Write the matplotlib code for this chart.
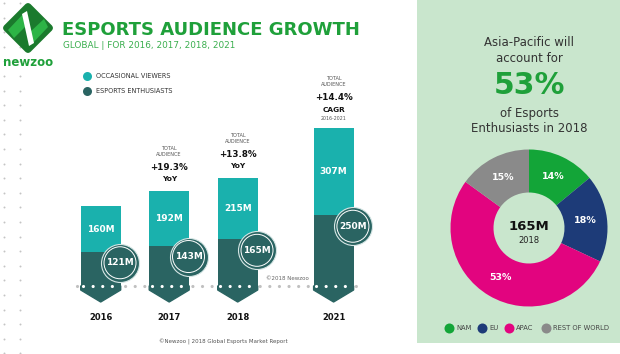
import numpy as np
import matplotlib.pyplot as plt
from matplotlib.patches import Rectangle, Polygon

# ---- data ----
years = ['2016', '2017', '2018', '2021']
enthusiasts = [121, 143, 165, 250]
occasional = [160, 192, 215, 307]
growth_pct = [None, '+19.3%', '+13.8%', '+14.4%']
growth_kind = [None, 'YoY', 'YoY', 'CAGR']

regions = ['NAM', 'EU', 'APAC', 'REST OF WORLD']
region_share = [14, 18, 53, 15]

# ---- style ----
TEAL = '#1ab1ad'
DARK = '#2a6462'
GREEN = '#1fa03a'
LIGHT_BG = '#c9e6cd'
REGION_COLORS = ['#13a538', '#1d3b78', '#e2047f', '#8a8a8a']
plt.rcParams['font.family'] = 'DejaVu Sans'

W, H = 620, 354
PX_PER_M = 0.283      # bar scale, pixels per million
BASE_Y = 286          # baseline pixel row
STEP = 68.5           # pixels between neighbouring years
pt = 0.72             # points per pixel at dpi 100

fig = plt.figure(figsize=(W / 100, H / 100), dpi=100)

# background / decoration layer in pixel coordinates
bg = fig.add_axes([0, 0, 1, 1])
bg.set_xlim(0, W)
bg.set_ylim(H, 0)
bg.axis('off')

# dot grid on the left margin
gy = np.arange(3, H, 14.6)
for gx in (4, 20):
    bg.scatter(np.full_like(gy, gx), gy, s=2, color='#c4c4c4', lw=0)

# logo
c = (28, 28)
d = 21.5
bg.add_patch(Polygon([(c[0], c[1] - d), (c[0] + d, c[1]), (c[0], c[1] + d), (c[0] - d, c[1])],
                     closed=True, fc='#1b7a2d', ec='#1b7a2d', lw=5, joinstyle='round'))
bg.add_patch(Polygon([(8, 30), (25, 12), (28, 24), (14, 38)], fc='#2db446', lw=0))
bg.add_patch(Polygon([(29, 33), (44, 19), (48, 27), (32, 44)], fc='#2db446', lw=0))
bg.add_patch(Polygon([(22, 14), (27, 11), (34, 43), (29, 46)], fc='white', lw=0))
bg.text(28, 63, 'newzoo', ha='center', va='center', fontsize=8.5, fontweight='bold', color=GREEN)

# title
bg.text(62, 30, 'ESPORTS AUDIENCE GROWTH', ha='left', va='center', fontsize=13,
        fontweight='bold', color=GREEN)
bg.text(63, 45, 'GLOBAL | FOR 2016, 2017, 2018, 2021', ha='left', va='center',
        fontsize=6.4, color='#3aae4e')

# legend for bars
for ly, col, lab in [(76, TEAL, 'OCCASIONAL VIEWERS'), (91, DARK, 'ESPORTS ENTHUSIASTS')]:
    bg.scatter([87], [ly], s=(9 * pt) ** 2, color=col, lw=0)
    bg.text(96, ly, lab, ha='left', va='center', fontsize=4.7, color='#333333')

bg.text(266, 278, '\u00a92018 Newzoo', ha='left', va='center', fontsize=4, color='#666666')
bg.text(223, 342, '\u00a9Newzoo | 2018 Global Esports Market Report', ha='center', va='center',
        fontsize=4, color='#555555')

# right panel
bg.add_patch(Rectangle((417, 0), W - 417, 343, fc=LIGHT_BG, lw=0))
px = 529
bg.text(px, 43, 'Asia-Pacific will', ha='center', va='center', fontsize=8.5, color='#333333')
bg.text(px, 58, 'account for', ha='center', va='center', fontsize=8.5, color='#333333')
bg.text(px, 85, f'{region_share[2]}%', ha='center', va='center', fontsize=21.5,
        fontweight='bold', color=GREEN)
bg.text(px, 113, 'of Esports', ha='center', va='center', fontsize=8.5, color='#333333')
bg.text(px, 128, 'Enthusiasts in 2018', ha='center', va='center', fontsize=8.5, color='#333333')

leg_x = [449, 482, 509, 546]
for lx, col, lab in zip(leg_x, REGION_COLORS, regions):
    bg.scatter([lx], [328], s=(10 * pt) ** 2, color=col, lw=0)
    bg.text(lx + 7, 328, lab, ha='left', va='center', fontsize=4.9, color='#444444')

# ---- bar chart ----
x = np.array([0, 1, 2, 3.4])
width = 40 / STEP
ax = fig.add_axes([0, 0, 418 / W, 1])
ax.set_xlim(-100.7 / STEP, (418 - 100.7) / STEP)
ax.set_ylim(-(H - BASE_Y) / PX_PER_M, BASE_Y / PX_PER_M)
ax.axis('off')
ax.patch.set_alpha(0)

ent = np.array(enthusiasts)
occ = np.array(occasional)
ax.bar(x, ent, width, color=DARK, zorder=2)
ax.bar(x, occ, width, bottom=ent, color=TEAL, zorder=2)

# chevrons under each bar
side = 4 / PX_PER_M
tip = 16 / PX_PER_M
for xi in x:
    l, r = xi - width / 2, xi + width / 2
    ax.add_patch(Polygon([(l, 0), (r, 0), (r, -side), (xi, -tip), (l, -side)], closed=True,
                         fc=DARK, ec=DARK, lw=1, joinstyle='round', zorder=2, clip_on=False))

# dotted baseline
ax.hlines(0, (77 - 100.7) / STEP, (362 - 100.7) / STEP, colors='#c0c0c0', lw=2.3,
          linestyles=(0, (0.01, 3.0)), capstyle='round', zorder=1)
for xi in x:
    ax.hlines(0, xi - width / 2 + 0.04, xi + width / 2, colors='white', lw=2.3,
              linestyles=(0, (0.01, 3.0)), capstyle='round', zorder=3)

# values
for xi, e, o in zip(x, ent, occ):
    ax.text(xi, e + o / 2, f'{o}M', ha='center', va='center', fontsize=6.5,
            fontweight='bold', color='white', zorder=4)
    cx, cy = xi + width / 2 - 0.01, e - 11 / PX_PER_M
    ax.scatter([cx], [cy], s=(38 * pt) ** 2, color=DARK, edgecolors='#d6e6e5', lw=0.8, zorder=5)
    ax.scatter([cx], [cy], s=(32 * pt) ** 2, facecolors='none', edgecolors='white', lw=0.7, zorder=6)
    ax.text(cx, cy, f'{e}M', ha='center', va='center', fontsize=6.5,
            fontweight='bold', color='white', zorder=7)

for xi, yr in zip(x, years):
    ax.annotate(yr, (xi, 0), xytext=(0, -32 * pt), textcoords='offset points', ha='center',
                va='center', fontsize=6, fontweight='bold', color='#111111')

# growth notes above bars
for xi, e, o, pct, kind in zip(x, ent, occ, growth_pct, growth_kind):
    if pct is None:
        continue
    top = e + o
    if kind == 'CAGR':
        lines = [('TOTAL', 50, 3.6, 'normal'), ('AUDIENCE', 44, 3.6, 'normal'),
                 (pct, 31, 6.3, 'bold'), (kind, 18, 5.3, 'bold'),
                 ('2016-2021', 10, 3.4, 'normal')]
    else:
        lines = [('TOTAL', 43, 3.6, 'normal'), ('AUDIENCE', 37, 3.6, 'normal'),
                 (pct, 24, 6.3, 'bold'), (kind, 12, 5.3, 'bold')]
    for txt, off, fs, fw in lines:
        col = '#111111' if fw == 'bold' else '#555555'
        ax.annotate(txt, (xi, top), xytext=(0, off * pt), textcoords='offset points',
                    ha='center', va='center', fontsize=fs, fontweight=fw, color=col)

# ---- donut ----
R = 78.5
cxp, cyp = 529, 228
axp = fig.add_axes([(cxp - R) / W, (H - cyp - R) / H, 2 * R / W, 2 * R / H])
axp.pie(region_share, colors=REGION_COLORS, startangle=90, counterclock=False, radius=1,
        wedgeprops=dict(width=1 - 35.5 / R, lw=0), autopct=lambda p: f'{p:.0f}%',
        pctdistance=0.726, textprops=dict(color='white', fontweight='bold', fontsize=6.8))
axp.set_xlim(-1, 1)
axp.set_ylim(-1, 1)
axp.text(0, 0.02, f'{enthusiasts[2]}M', ha='center', va='center', fontsize=9.5,
         fontweight='bold', color='#111111')
axp.text(0, -0.16, years[2], ha='center', va='center', fontsize=6, color='#222222')

fig.savefig('out.png', dpi=100)
